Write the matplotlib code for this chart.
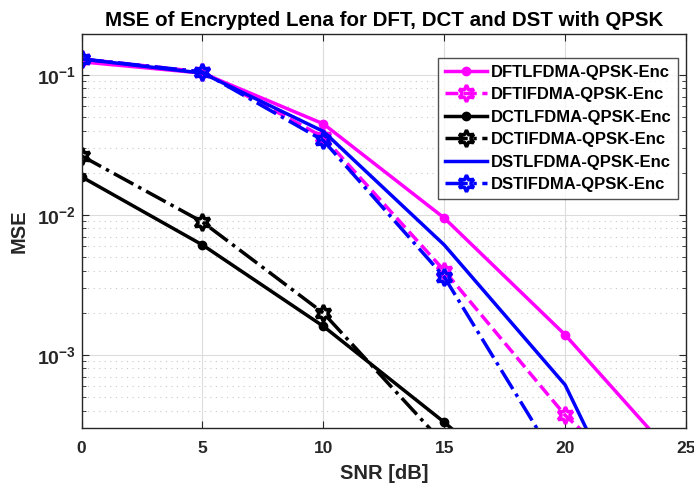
import numpy as np
import matplotlib
matplotlib.use('Agg')
import matplotlib.pyplot as plt
from matplotlib.ticker import LogLocator, NullFormatter

plt.rcParams['font.family'] = ['Liberation Sans', 'DejaVu Sans']
plt.rcParams['font.weight'] = 'bold'
plt.rcParams['mathtext.fontset'] = 'custom'
plt.rcParams['mathtext.rm'] = 'Liberation Sans:bold'
plt.rcParams['mathtext.bf'] = 'Liberation Sans:bold'
plt.rcParams['mathtext.it'] = 'Liberation Sans:bold'
plt.rcParams['mathtext.default'] = 'bf'

snr = [0, 5, 10, 15, 20, 25]
dft_lfdma = [0.124, 0.103, 0.0447, 0.0095, 0.00139, 0.00015]
dft_ifdma = [0.13, 0.105, 0.036, 0.0040, 0.00037, 0.00006]
dct_lfdma = [0.0187, 0.0061, 0.0016, 0.00033, 0.00006, 0.00001]
dct_ifdma = [0.0264, 0.0089, 0.00199, 0.00023, 0.00003, 0.000005]
dst_lfdma = [0.13, 0.103, 0.0395, 0.0061, 0.00061, 0.00001]
dst_ifdma = [0.13, 0.105, 0.034, 0.0036, 0.00014, 0.00001]

hexagram = (6, 1, 0)

fig = plt.figure(figsize=(6.94, 4.9), dpi=100)
ax = fig.add_axes([0.1175, 0.1265, 0.871, 0.8041])

lw = 2.5
ax.plot(snr, dft_lfdma, '-', color='magenta', lw=lw, marker='o', ms=6,
        label='DFTLFDMA-QPSK-Enc')
ax.plot(snr, dft_ifdma, '--', color='magenta', lw=lw, marker=hexagram, ms=12,
        mfc='none', mew=2.5, label='DFTIFDMA-QPSK-Enc')
ax.plot(snr, dct_lfdma, '-', color='black', lw=lw, marker='o', ms=6,
        label='DCTLFDMA-QPSK-Enc')
ax.plot(snr, dct_ifdma, '-.', color='black', lw=lw, marker=hexagram, ms=12,
        mfc='none', mew=2.5, label='DCTIFDMA-QPSK-Enc')
ax.plot(snr, dst_lfdma, '-', color='blue', lw=lw,
        label='DSTLFDMA-QPSK-Enc')
ax.plot(snr, dst_ifdma, '-.', color='blue', lw=lw, marker=hexagram, ms=12,
        mfc='none', mew=2.5, label='DSTIFDMA-QPSK-Enc')

ax.set_yscale('log')
ax.set_xlim(0, 25)
ax.set_ylim(3e-4, 0.196)
ax.set_xticks([0, 5, 10, 15, 20, 25])
ax.yaxis.set_major_locator(LogLocator(base=10, numticks=10))
ax.yaxis.set_minor_locator(LogLocator(base=10, subs=np.arange(2, 10), numticks=10))
ax.yaxis.set_minor_formatter(NullFormatter())

ax.grid(True, which='major', color='#dcdcdc', lw=0.8)
ax.grid(True, which='minor', axis='y', color='#c8c8c8', ls=(0, (1, 4)), lw=0.8)
ax.set_axisbelow(True)

for s in ax.spines.values():
    s.set_color('#262626')
    s.set_linewidth(1.0)
ax.tick_params(which='both', direction='in', top=True, right=True,
               colors='#262626', labelcolor='#262626')
ax.tick_params(which='major', length=5)
ax.tick_params(which='minor', length=3)
ax.tick_params(axis='x', pad=9, labelsize=12.5)
ax.tick_params(axis='y', pad=4, labelsize=14)
for t in ax.get_xticklabels() + ax.get_yticklabels():
    t.set_fontweight('bold')

ax.set_xlabel('SNR [dB]', fontsize=14.5, fontweight='bold', color='#262626', labelpad=6)
ax.set_ylabel('MSE', fontsize=14.5, fontweight='bold', color='#262626', labelpad=6)
ax.set_title('MSE of Encrypted Lena for DFT, DCT and DST with QPSK',
             fontsize=14.8, fontweight='bold', pad=6)

leg = ax.legend(loc='upper right', bbox_to_anchor=(0.987, 0.939), fancybox=False,
                edgecolor='#262626', prop={'weight': 'bold', 'size': 12},
                handlelength=2.5, labelspacing=0.45, borderpad=0.4,
                handletextpad=0.25, borderaxespad=0)
leg.get_frame().set_linewidth(1.0)

fig.savefig('out.png', dpi=100)
